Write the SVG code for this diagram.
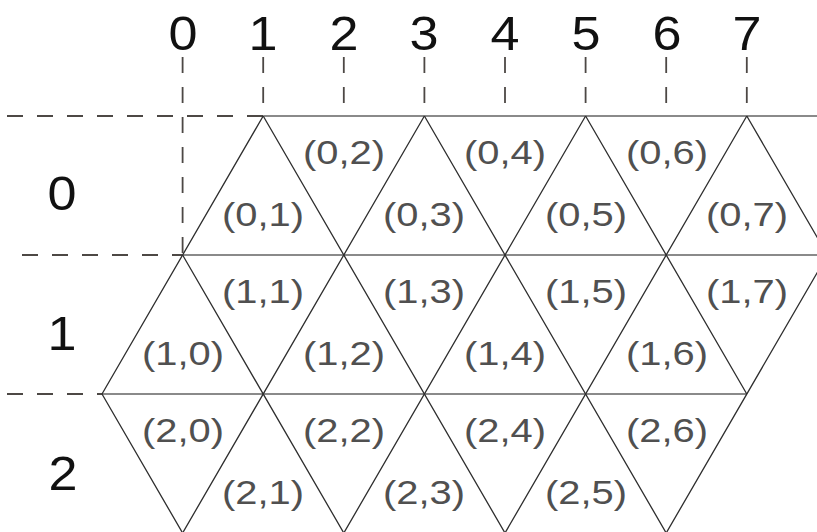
<svg xmlns="http://www.w3.org/2000/svg" width="817" height="532" viewBox="0 0 817 532">
<style>
.axis{font-family:"Liberation Sans",Arial,sans-serif;font-size:48px;fill:#111;text-anchor:middle}
.cell{font-family:"Liberation Sans",Arial,sans-serif;font-size:33px;fill:#505050;text-anchor:middle}
.dash{stroke:#4d4845;stroke-width:1.8;stroke-dasharray:16 14;fill:none}
.hline{stroke:#8a8a8a;stroke-width:2.2;fill:none}
.dline{stroke:#2e2e2e;stroke-width:1.3;fill:none}
</style>
<rect width="817" height="532" fill="#fff"/>
<g id="guides">
<path class="dash" d="M182.6 57V255M263.2 57V116M343.8 57V110M424.4 57V110M505 57V110M585.6 57V110M666.2 57V110M746.8 57V110"/>
<path class="dash" d="M7 116H263.2M22 255H182.6M7 394H102"/>
</g>
<g id="column-labels">
<text class="axis" x="183" y="50" textLength="29" lengthAdjust="spacingAndGlyphs">0</text>
<text class="axis" x="263" y="50" textLength="29" lengthAdjust="spacingAndGlyphs">1</text>
<text class="axis" x="344" y="50" textLength="29" lengthAdjust="spacingAndGlyphs">2</text>
<text class="axis" x="424" y="50" textLength="29" lengthAdjust="spacingAndGlyphs">3</text>
<text class="axis" x="505" y="50" textLength="29" lengthAdjust="spacingAndGlyphs">4</text>
<text class="axis" x="586" y="50" textLength="29" lengthAdjust="spacingAndGlyphs">5</text>
<text class="axis" x="667" y="50" textLength="29" lengthAdjust="spacingAndGlyphs">6</text>
<text class="axis" x="747" y="50" textLength="29" lengthAdjust="spacingAndGlyphs">7</text>
</g>
<g id="row-labels">
<text class="axis" x="62" y="210" textLength="29" lengthAdjust="spacingAndGlyphs">0</text>
<text class="axis" x="62" y="350" textLength="29" lengthAdjust="spacingAndGlyphs">1</text>
<text class="axis" x="63" y="490" textLength="29" lengthAdjust="spacingAndGlyphs">2</text>
</g>
<g id="grid">
<path class="hline" d="M263.2 116H817M182.6 255H817M102 394H746.8"/>
<path class="dline" d="M263.2 116L102 394M424.4 116L182.6 533M585.6 116L343.8 533M746.8 116L505 533M827.4 255L666.2 533"/>
<path class="dline" d="M263.2 116L505 533M182.6 255L343.8 533M102 394L182.6 533M424.4 116L666.2 533M585.6 116L746.8 394M746.8 116L827.4 255"/>
</g>
<g id="cells-row0">
<text id="c0-1" class="cell" x="263" y="226" textLength="82" lengthAdjust="spacingAndGlyphs">(0,1)</text>
<text id="c0-2" class="cell" x="344" y="164" textLength="82" lengthAdjust="spacingAndGlyphs">(0,2)</text>
<text id="c0-3" class="cell" x="424" y="226" textLength="82" lengthAdjust="spacingAndGlyphs">(0,3)</text>
<text id="c0-4" class="cell" x="505" y="164" textLength="82" lengthAdjust="spacingAndGlyphs">(0,4)</text>
<text id="c0-5" class="cell" x="586" y="226" textLength="82" lengthAdjust="spacingAndGlyphs">(0,5)</text>
<text id="c0-6" class="cell" x="667" y="164" textLength="82" lengthAdjust="spacingAndGlyphs">(0,6)</text>
<text id="c0-7" class="cell" x="747" y="226" textLength="82" lengthAdjust="spacingAndGlyphs">(0,7)</text>
</g>
<g id="cells-row1">
<text id="c1-0" class="cell" x="183" y="365" textLength="82" lengthAdjust="spacingAndGlyphs">(1,0)</text>
<text id="c1-1" class="cell" x="263" y="303" textLength="82" lengthAdjust="spacingAndGlyphs">(1,1)</text>
<text id="c1-2" class="cell" x="344" y="365" textLength="82" lengthAdjust="spacingAndGlyphs">(1,2)</text>
<text id="c1-3" class="cell" x="424" y="303" textLength="82" lengthAdjust="spacingAndGlyphs">(1,3)</text>
<text id="c1-4" class="cell" x="505" y="365" textLength="82" lengthAdjust="spacingAndGlyphs">(1,4)</text>
<text id="c1-5" class="cell" x="586" y="303" textLength="82" lengthAdjust="spacingAndGlyphs">(1,5)</text>
<text id="c1-6" class="cell" x="667" y="365" textLength="82" lengthAdjust="spacingAndGlyphs">(1,6)</text>
<text id="c1-7" class="cell" x="747" y="303" textLength="82" lengthAdjust="spacingAndGlyphs">(1,7)</text>
</g>
<g id="cells-row2">
<text id="c2-0" class="cell" x="183" y="442" textLength="82" lengthAdjust="spacingAndGlyphs">(2,0)</text>
<text id="c2-1" class="cell" x="263" y="504" textLength="82" lengthAdjust="spacingAndGlyphs">(2,1)</text>
<text id="c2-2" class="cell" x="344" y="442" textLength="82" lengthAdjust="spacingAndGlyphs">(2,2)</text>
<text id="c2-3" class="cell" x="424" y="504" textLength="82" lengthAdjust="spacingAndGlyphs">(2,3)</text>
<text id="c2-4" class="cell" x="505" y="442" textLength="82" lengthAdjust="spacingAndGlyphs">(2,4)</text>
<text id="c2-5" class="cell" x="586" y="504" textLength="82" lengthAdjust="spacingAndGlyphs">(2,5)</text>
<text id="c2-6" class="cell" x="667" y="442" textLength="82" lengthAdjust="spacingAndGlyphs">(2,6)</text>
</g>
</svg>
